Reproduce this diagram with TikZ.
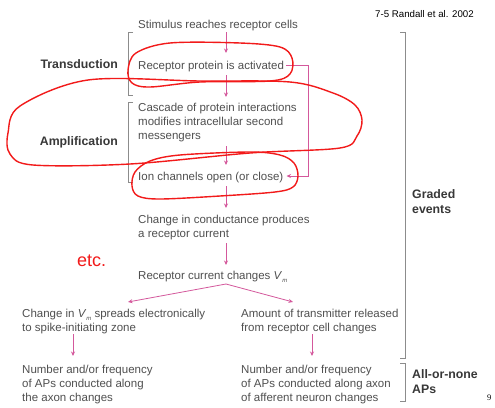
\documentclass[tikz,border=0pt]{standalone}
\usepackage{fontspec}
\setmainfont{Liberation Sans}
\newfontfamily\pagenumfont{Liberation Serif}
\usetikzlibrary{arrows.meta,calc}
\definecolor{txtgray}{HTML}{505050}
\definecolor{lblgray}{HTML}{383838}
\definecolor{flowpink}{HTML}{D4589C}
\definecolor{brgray}{HTML}{8C8C8C}
\definecolor{markred}{HTML}{F21A1A}
\tikzset{
  steptext/.style={anchor=base west, inner sep=0pt, align=left, text=txtgray,
    font=\fontsize{11.5}{13.7}\selectfont},
  stagelabel/.style={inner sep=0pt, align=left, text=lblgray,
    font=\bfseries\fontsize{12.3}{14.5}\selectfont},
  flow/.style={draw=flowpink, line width=0.8pt, -{Stealth[length=4.5pt,width=4pt]}},
  bracketline/.style={draw=brgray, line width=0.9pt},
  redmark/.style={draw=markred, line width=1.4pt}
}
\begin{document}
\begin{tikzpicture}[x=1pt,y=-1pt]
\useasboundingbox[fill=white] (0,0) rectangle (495,407);

% column guides for the vertical arrows
\coordinate (ax) at (226,0);
\coordinate (fb) at (308,0);
\coordinate (lx) at (73,0);
\coordinate (rx) at (312,0);

% citation and page number
\node[anchor=base west, inner sep=0pt, font=\fontsize{9.7}{11}\selectfont] (cite) at (375,17) {7-5 Randall et al. 2002};
\node[anchor=base west, inner sep=0pt, font=\pagenumfont\fontsize{8.5}{10}\selectfont] (pnum) at (487,400) {9};

% main chain of steps (multi-line nodes sit on their last baseline)
\node[steptext] (stim) at (138,28) {Stimulus reaches receptor cells};
\node[steptext] (rec) at (138,69) {Receptor protein is activated};
\node[steptext] (casc) at (138,139) {Cascade of protein interactions\\modifies intracellular second\\messengers};
\node[steptext] (ion) at (138,180) {Ion channels open (or close)};
\node[steptext] (cond) at (138,237) {Change in conductance produces\\a receptor current};
\node[steptext] (rcc) at (138,279) {Receptor current changes \textit{V}\raisebox{-0.6ex}{\fontsize{6}{7}\selectfont\textit{m}}};
\node[steptext] (lbr) at (22,331) {Change in \textit{V}\raisebox{-0.6ex}{\fontsize{6}{7}\selectfont\textit{m}} spreads electronically\\to spike-initiating zone};
\node[steptext] (rbr) at (241,331) {Amount of transmitter released\\from receptor cell changes};
\node[steptext] (lout) at (22,401) {Number and/or frequency\\of APs conducted along\\the axon changes};
\node[steptext] (rout) at (241,401) {Number and/or frequency\\of APs conducted along axon\\of afferent neuron changes};

% stage labels
\node[stagelabel, anchor=base east] (tlab) at (118,68) {Transduction};
\node[stagelabel, anchor=base east] (alab) at (118,145) {Amplification};
\node[stagelabel, anchor=base west] (glab) at (412,213) {Graded\\events};
\node[stagelabel, anchor=base west] (aplab) at (412,393) {All-or-none\\APs};

% arrows down the chain
\draw[flow] ($(stim.base -| ax)+(0,4)$) -- ($(rec.base -| ax)+(0,-16)$);
\draw[flow] ($(rec.base -| ax)+(0,6)$) -- ($(casc.base -| ax)+(0,-42)$);
\draw[flow] ($(casc.base -| ax)+(0,7)$) -- ($(ion.base -| ax)+(0,-15)$);
\draw[flow] ($(ion.base -| ax)+(0,6)$) -- ($(cond.base -| ax)+(0,-29)$);
\draw[flow] ($(cond.base -| ax)+(0,6)$) -- ($(rcc.base -| ax)+(0,-14)$);
\coordinate (split) at ($(rcc.base -| ax)+(0,5)$);
\draw[flow] (split) -- ($(lbr.base west)+(106,-29)$);
\draw[flow] (split) -- ($(rbr.base west)+(52,-29)$);
\draw[flow] ($(lbr.base -| lx)+(0,3)$) -- ($(lout.base -| lx)+(0,-45)$);
\draw[flow] ($(rbr.base -| rx)+(0,3)$) -- ($(rout.base -| rx)+(0,-45)$);

% feedback from receptor activation to the ion channels
\draw[flow] ($(rec.east)+(2,-1)$) -- ($(rec.east -| fb)+(0,-1)$) -- ($(ion.east -| fb)+(0,-1)$) -- ($(ion.east)+(3,-1)$);

% brackets
\draw[bracketline] (133,32) -- (128,32) -- (128,95) -- (133,95);
\draw[bracketline] (133,102) -- (128,102) -- (128,182) -- (133,182);
\draw[bracketline] (400,32) -- (405,32) -- (405,358) -- (400,358);
\draw[bracketline] (400,363) -- (405,363) -- (405,401) -- (400,401);

% hand-drawn red annotations
\draw[redmark] plot[smooth cycle, tension=0.55] coordinates {
  (170,43) (240,43) (280,47) (292,58) (290,74) (270,81) (200,82)
  (150,87) (132,83) (128,70) (136,53)};
\draw[redmark] plot[smooth cycle, tension=0.55] coordinates {
  (88,80) (200,81) (290,82) (333,93) (355,105) (362,120) (357,136)
  (340,148) (250,153) (130,164) (33,165) (10,154) (8,133) (20,106)};
\draw[redmark] plot[smooth cycle, tension=0.55] coordinates {
  (180,155) (250,152) (280,155) (294,163) (298,176) (293,187) (275,192)
  (220,196) (160,199) (138,196) (132,186) (135,172) (150,161)};
\node[anchor=base west, inner sep=0pt, text=markred, font=\fontsize{18}{20}\selectfont] (etc) at (77,266) {etc.};
\end{tikzpicture}
\end{document}
